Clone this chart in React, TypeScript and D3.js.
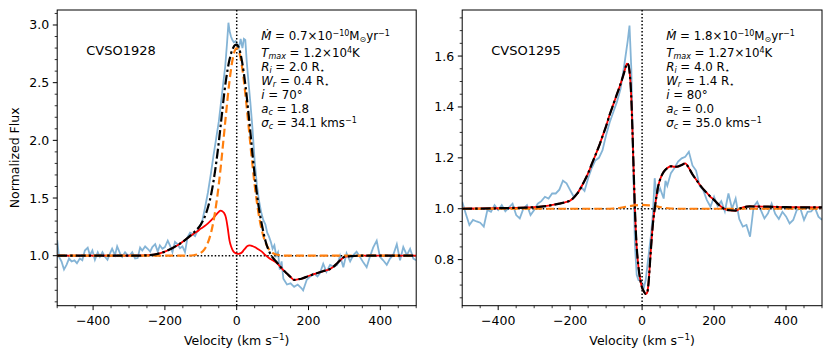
import React from 'react';
import * as d3 from 'd3';

// ---------- tick labels ----------
const velocityTicks = [-400, -200, 0, 200, 400];
const leftFluxTicks = [1.0, 1.5, 2.0, 2.5, 3.0];
const rightFluxTicks = [0.8, 1.0, 1.2, 1.4, 1.6];

// ---------- CVSO1928 (left) observed ----------
const leftObsV = [-500,-495,-488,-481,-474,-467,-460,-452,-445,-437,-430,-423,-415,-409,-402,-395,-387,-381,-374,-367,-360,-353,-347,-339,-333,-325,-319,-311,-304,-297,-291,-283,-276,-269,-263,-255,-248,-241,-235,-227,-220,-214,-207,-200,-192,-186,-179,-172,-165,-158,-151,-144,-137,-130,-124,-116,-109,-102,-96,-88,-80,-72,-65,-58,-50,-44,-38,-32,-27,-23,-20,-16,-12,-8,-3,2,6,11,16,20,24,28,33,38,44,50,56,62,68,74,80,85,90,95,100,105,110,115,120,125,130,140,150,160,170,180,185,195,205,215,225,232,241,250,260,270,280,288,297,306,316,325,334,343,353,362,371,380,390,399,408,418,427,436,446,455,464,474,483,492,500];
const leftObsF = [1.136,0.99,0.95,0.88,0.92,0.975,0.95,0.96,0.935,0.975,0.96,1.045,1.07,1.005,1.045,0.965,1.03,0.99,1.03,0.99,0.965,1.02,1.06,1.005,1.08,1.02,0.99,1.03,1.005,1.005,1.03,0.975,0.98,1.07,1.045,1.08,1.06,1.035,1.075,1.1,1.035,1.09,1.06,1.075,1.13,1.09,1.03,1.12,1.1,1.065,1.08,1.03,1.16,1.2,1.19,1.17,1.22,1.26,1.3,1.42,1.55,1.71,1.86,2.0,2.16,2.32,2.48,2.64,2.84,3.02,2.95,2.9,2.87,2.85,2.86,2.83,2.8,2.88,2.8,2.88,2.87,2.68,2.5,2.33,2.1,1.82,1.62,1.48,1.38,1.31,1.27,1.2,1.165,1.12,1.06,1.09,1.0,1.03,0.88,0.95,0.8,0.75,0.76,0.73,0.75,0.72,0.70,0.79,0.82,0.845,0.82,0.85,0.93,0.86,0.92,0.905,0.92,1.0,0.9,1.02,0.95,1.005,1.035,0.99,0.94,0.9,0.99,1.07,1.13,0.99,0.96,0.92,0.975,1.005,1.1,0.96,1.075,1.005,1.06,0.975,0.96];

// ---------- CVSO1928 (left) models ----------
const leftModelV = [-500,-400,-300,-260,-230,-210,-200,-180,-160,-140,-120,-110,-100,-90,-80,-70,-60,-50,-45,-40,-35,-30,-25,-20,-15,-10,-5,0,5,10,15,20,25,30,35,40,45,50,60,70,80,90,100,110,120,130,140,150,160,170,180,200,220,240,260,270,280,290,300,320,350,400,500];
const leftMagFlux = [1.0,1.0,1.0,1.002,1.01,1.025,1.035,1.065,1.10,1.145,1.19,1.21,1.235,1.255,1.28,1.31,1.345,1.38,1.39,1.385,1.37,1.33,1.24,1.13,1.075,1.04,1.025,1.018,1.015,1.02,1.03,1.05,1.068,1.085,1.09,1.088,1.082,1.075,1.055,1.035,1.005,0.98,0.96,0.94,0.91,0.875,0.845,0.815,0.79,0.795,0.80,0.824,0.845,0.865,0.885,0.905,0.935,0.965,0.99,0.997,1.0,1.0,1.0];
const leftCompFlux = [1.0,1.0,1.0,1.0,1.0,1.0,1.0,1.0,1.0,1.0,1.004,1.01,1.024,1.055,1.115,1.219,1.383,1.614,1.753,1.905,2.063,2.222,2.375,2.516,2.634,2.724,2.78,2.80,2.78,2.724,2.634,2.516,2.375,2.222,2.063,1.905,1.753,1.614,1.383,1.219,1.115,1.055,1.024,1.01,1.004,1.001,1.0,1.0,1.0,1.0,1.0,1.0,1.0,1.0,1.0,1.0,1.0,1.0,1.0,1.0,1.0,1.0,1.0];
const leftTotalFlux = [1.0,1.0,1.0,1.002,1.01,1.025,1.035,1.065,1.10,1.145,1.20,1.23,1.27,1.33,1.42,1.55,1.74,1.98,2.12,2.26,2.40,2.52,2.62,2.70,2.76,2.80,2.825,2.83,2.81,2.76,2.68,2.58,2.46,2.32,2.17,2.01,1.85,1.70,1.45,1.27,1.13,1.04,0.985,0.95,0.91,0.875,0.845,0.815,0.79,0.795,0.80,0.824,0.845,0.865,0.885,0.905,0.935,0.965,0.99,0.997,1.0,1.0,1.0];

// ---------- CVSO1295 (right) observed ----------
const rightObsV = [-500,-490,-480,-470,-460,-450,-440,-430,-420,-410,-400,-390,-380,-370,-360,-350,-340,-330,-320,-310,-300,-290,-280,-270,-260,-250,-240,-230,-220,-210,-200,-190,-180,-170,-160,-150,-140,-130,-120,-110,-100,-90,-80,-70,-60,-50,-40,-35,-30,-25,-20,-15,-10,-5,0,5,10,15,20,25,30,35,40,50,60,65,70,80,90,100,110,120,130,140,150,160,170,180,190,200,210,220,230,240,250,260,270,280,290,300,310,320,330,340,350,360,370,380,390,400,410,420,430,440,450,460,470,480,490,500];
const rightObsF = [1.027,0.98,0.936,0.956,0.95,0.945,0.93,0.995,0.988,1.014,0.995,1.014,0.99,1.005,1.02,0.975,0.962,1.0,1.014,0.975,0.995,1.02,1.03,1.047,1.04,1.06,1.06,1.075,1.11,1.10,1.073,1.047,1.06,1.086,1.07,1.12,1.16,1.19,1.20,1.23,1.29,1.34,1.38,1.42,1.47,1.56,1.66,1.72,1.55,1.2,0.86,0.74,0.72,0.72,0.71,0.69,0.72,0.78,0.84,0.9,0.98,1.12,1.05,1.08,1.04,1.11,1.09,1.14,1.16,1.185,1.198,1.204,1.224,1.17,1.15,1.09,1.073,1.034,1.008,1.047,1.01,1.03,0.99,1.06,1.0,1.04,0.96,0.93,0.936,0.89,1.008,1.027,0.995,0.962,0.982,1.02,0.98,0.96,0.988,0.97,0.942,0.956,0.995,1.0,0.956,0.988,0.99,1.005,0.969,0.956];

// ---------- CVSO1295 (right) models ----------
const rightModelV = [-500,-400,-300,-260,-230,-210,-200,-180,-160,-150,-140,-130,-120,-110,-100,-90,-80,-70,-60,-50,-45,-42,-38,-35,-32,-29,-26,-23,-20,-17,-14,-10,-5,0,5,10,14,18,22,26,30,35,40,45,50,60,70,80,90,100,110,120,130,140,150,160,170,180,190,200,210,220,230,245,260,275,290,300,350,400,500];
const rightMagFlux = [1.0,1.002,1.006,1.012,1.02,1.027,1.032,1.06,1.11,1.14,1.175,1.21,1.245,1.285,1.325,1.37,1.41,1.45,1.49,1.535,1.56,1.57,1.565,1.54,1.49,1.40,1.27,1.13,1.0,0.9,0.83,0.77,0.72,0.69,0.675,0.665,0.67,0.71,0.79,0.87,0.94,1.0,1.05,1.09,1.115,1.145,1.16,1.167,1.165,1.166,1.172,1.178,1.16,1.135,1.115,1.095,1.077,1.062,1.047,1.035,1.02,1.008,0.998,0.994,0.993,1.003,1.008,1.009,1.008,1.006,1.005];
const rightTotalFlux = rightMagFlux;
const rightCompV = [-500,-100,-80,-60,-40,-20,0,20,40,60,80,100,500];
const rightCompFlux = [1.0,1.0,1.001,1.004,1.009,1.013,1.015,1.013,1.009,1.004,1.001,1.0,1.0];

type Seg = { t: string; it?: boolean; sub?: boolean; sup?: boolean };

const leftParams: Seg[][] = [
  [{ t: 'Ṁ', it: true }, { t: ' = 0.7×10' }, { t: '−10', sup: true }, { t: 'M' }, { t: '⊙', sub: true }, { t: 'yr' }, { t: '−1', sup: true }],
  [{ t: 'T', it: true }, { t: 'max', it: true, sub: true }, { t: ' = 1.2×10' }, { t: '4', sup: true }, { t: 'K' }],
  [{ t: 'R', it: true }, { t: 'i', it: true, sub: true }, { t: ' = 2.0 R' }, { t: '⋆', sub: true }],
  [{ t: 'W', it: true }, { t: 'r', it: true, sub: true }, { t: ' = 0.4 R' }, { t: '⋆', sub: true }],
  [{ t: 'i', it: true }, { t: ' = 70°' }],
  [{ t: 'a', it: true }, { t: 'c', it: true, sub: true }, { t: ' = 1.8' }],
  [{ t: 'σ', it: true }, { t: 'c', it: true, sub: true }, { t: ' = 34.1 kms' }, { t: '−1', sup: true }],
];
const rightParams: Seg[][] = [
  [{ t: 'Ṁ', it: true }, { t: ' = 1.8×10' }, { t: '−10', sup: true }, { t: 'M' }, { t: '⊙', sub: true }, { t: 'yr' }, { t: '−1', sup: true }],
  [{ t: 'T', it: true }, { t: 'max', it: true, sub: true }, { t: ' = 1.27×10' }, { t: '4', sup: true }, { t: 'K' }],
  [{ t: 'R', it: true }, { t: 'i', it: true, sub: true }, { t: ' = 4.0 R' }, { t: '⋆', sub: true }],
  [{ t: 'W', it: true }, { t: 'r', it: true, sub: true }, { t: ' = 1.4 R' }, { t: '⋆', sub: true }],
  [{ t: 'i', it: true }, { t: ' = 80°' }],
  [{ t: 'a', it: true }, { t: 'c', it: true, sub: true }, { t: ' = 0.0' }],
  [{ t: 'σ', it: true }, { t: 'c', it: true, sub: true }, { t: ' = 35.0 kms' }, { t: '−1', sup: true }],
];

const FONT = 'DejaVu Sans, sans-serif';

function MathLine({ x, y, segs, size }: { x: number; y: number; segs: Seg[]; size: number }) {
  let prev = 0;
  return (
    <text x={x} y={y} fontSize={size} fontFamily={FONT} fill="#000">
      {segs.map((s, k) => {
        const shift = s.sup ? -size * 0.36 : s.sub ? size * 0.2 : 0;
        const dy = shift - prev;
        prev = shift;
        return (
          <tspan key={k} dy={dy} fontStyle={s.it ? 'italic' : 'normal'} fontSize={s.sup || s.sub ? size * 0.68 : size}>
            {s.t}
          </tspan>
        );
      })}
    </text>
  );
}

interface Series { v: number[]; f: number[] }

interface PanelProps {
  id: string;
  x0: number; x1: number; y0: number; y1: number;
  yDomain: [number, number];
  yTicks: number[];
  yMinor: number;
  obs: Series;
  mag: Series;
  comp: Series;
  total: Series;
  name: string;
  params: Seg[][];
  showYLabel: boolean;
}

function Panel(p: PanelProps) {
  const x = d3.scaleLinear().domain([-500, 500]).range([p.x0, p.x1]);
  const y = d3.scaleLinear().domain(p.yDomain).range([p.y1, p.y0]);
  const mk = (s: Series, curve: d3.CurveFactory) =>
    d3.line<number>().x((_, i) => x(s.v[i])).y((d) => y(d)).curve(curve)(s.f) || '';
  const xMinor = d3.range(-500, 501, 50).filter((v) => !velocityTicks.includes(v));
  const yMinorVals: number[] = [];
  const start = Math.ceil(p.yDomain[0] / p.yMinor - 1e-9);
  const stop = Math.floor(p.yDomain[1] / p.yMinor + 1e-9);
  for (let k = start; k <= stop; k++) {
    const v = +(k * p.yMinor).toFixed(4);
    if (!p.yTicks.some((t) => Math.abs(t - v) < 1e-6)) yMinorVals.push(v);
  }
  const fs = 12.5;
  const cx = (p.x0 + p.x1) / 2;
  return (
    <g>
      <defs>
        <clipPath id={p.id}>
          <rect x={p.x0} y={p.y0} width={p.x1 - p.x0} height={p.y1 - p.y0} />
        </clipPath>
      </defs>
      <g clipPath={`url(#${p.id})`}>
        <path d={mk(p.obs, d3.curveLinear)} fill="none" stroke="#1f77b4" strokeOpacity={0.55} strokeWidth={1.8} />
        <line x1={x(0)} x2={x(0)} y1={p.y0} y2={p.y1} stroke="#000" strokeWidth={1.5} strokeDasharray="1.5,2" />
        <line x1={p.x0} x2={p.x1} y1={y(1)} y2={y(1)} stroke="#000" strokeWidth={1.5} strokeDasharray="1.5,2" />
        <path d={mk(p.mag, d3.curveMonotoneX)} fill="none" stroke="#ff0000" strokeWidth={1.8} />
        <path d={mk(p.comp, d3.curveMonotoneX)} fill="none" stroke="#ff7f0e" strokeWidth={2.2} strokeDasharray="8,4" />
        <path d={mk(p.total, d3.curveMonotoneX)} fill="none" stroke="#000" strokeWidth={2.2} strokeDasharray="10,3,2.5,3" />
      </g>
      <rect x={p.x0} y={p.y0} width={p.x1 - p.x0} height={p.y1 - p.y0} fill="none" stroke="#000" strokeWidth={1} />
      {velocityTicks.map((v) => (
        <g key={'xt' + v}>
          <line x1={x(v)} x2={x(v)} y1={p.y1} y2={p.y1 + 4.4} stroke="#000" strokeWidth={1} />
          <text x={x(v)} y={p.y1 + 19} textAnchor="middle" fontSize={fs} fontFamily={FONT}>
            {v < 0 ? '−' + Math.abs(v) : String(v)}
          </text>
        </g>
      ))}
      {xMinor.map((v) => (
        <line key={'xm' + v} x1={x(v)} x2={x(v)} y1={p.y1} y2={p.y1 + 2.5} stroke="#000" strokeWidth={0.8} />
      ))}
      {p.yTicks.map((t) => (
        <g key={'yt' + t}>
          <line x1={p.x0 - 4.4} x2={p.x0} y1={y(t)} y2={y(t)} stroke="#000" strokeWidth={1} />
          <text x={p.x0 - 8} y={y(t) + 4.5} textAnchor="end" fontSize={fs} fontFamily={FONT}>
            {t.toFixed(1)}
          </text>
        </g>
      ))}
      {yMinorVals.map((t) => (
        <line key={'ym' + t} x1={p.x0 - 2.5} x2={p.x0} y1={y(t)} y2={y(t)} stroke="#000" strokeWidth={0.8} />
      ))}
      <text x={cx} y={345} textAnchor="middle" fontSize={fs} fontFamily={FONT}>
        Velocity (km s<tspan dy={-5} fontSize={fs * 0.7}>−1</tspan><tspan dy={5}>)</tspan>
      </text>
      {p.showYLabel && (
        <text transform={`translate(19,${(p.y0 + p.y1) / 2}) rotate(-90)`} textAnchor="middle" fontSize={fs} fontFamily={FONT}>
          Normalized Flux
        </text>
      )}
      <text x={p.x0 + 29} y={54.5} fontSize={13} fontFamily={FONT}>{p.name}</text>
      {p.params.map((segs, k) => (
        <MathLine key={k} x={p.x0 + 204} y={[40, 57, 71, 85, 99, 113, 127][k]} segs={segs} size={11.8} />
      ))}
    </g>
  );
}

export default function App() {
  return (
    <svg width={831} height={358} style={{ position: 'absolute', left: 0, top: 0, background: '#fff' }}>
      <rect x={0} y={0} width={831} height={358} fill="#fff" />
      <Panel
        id="clipL"
        x0={57.2} x1={416.2} y0={10} y1={305.7}
        yDomain={[0.5665, 3.13]}
        yTicks={leftFluxTicks}
        yMinor={0.1}
        obs={{ v: leftObsV, f: leftObsF }}
        mag={{ v: leftModelV, f: leftMagFlux }}
        comp={{ v: leftModelV, f: leftCompFlux }}
        total={{ v: leftModelV, f: leftTotalFlux }}
        name="CVSO1928"
        params={leftParams}
        showYLabel={true}
      />
      <Panel
        id="clipR"
        x0={462.2} x1={822} y0={10} y1={305.7}
        yDomain={[0.619, 1.781]}
        yTicks={rightFluxTicks}
        yMinor={0.05}
        obs={{ v: rightObsV, f: rightObsF }}
        mag={{ v: rightModelV, f: rightMagFlux }}
        comp={{ v: rightCompV, f: rightCompFlux }}
        total={{ v: rightModelV, f: rightTotalFlux }}
        name="CVSO1295"
        params={rightParams}
        showYLabel={false}
      />
    </svg>
  );
}
